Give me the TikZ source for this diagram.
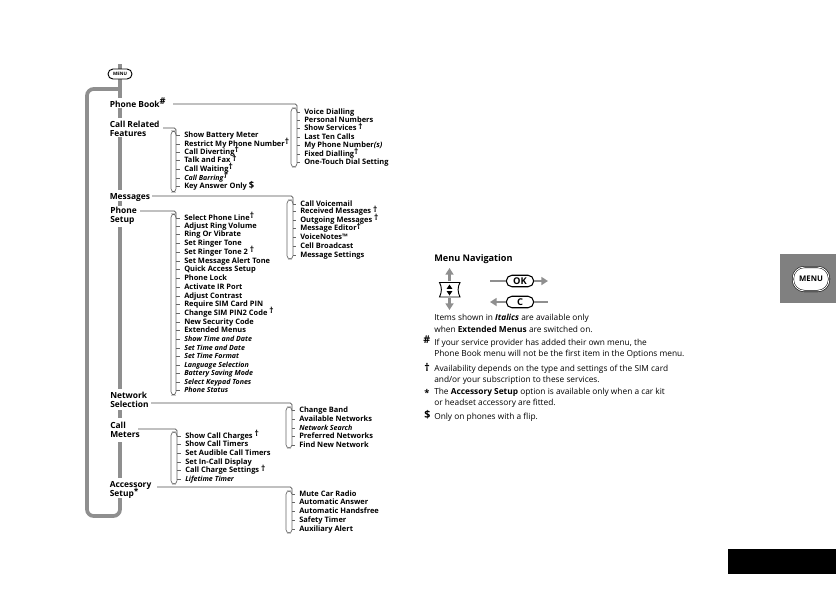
\documentclass[tikz,border=0pt]{standalone}
\usepackage{fontspec}
\setmainfont{Open Sans}
\usepackage{tikz}
\usetikzlibrary{arrows.meta, positioning}
\definecolor{bargrey}{gray}{0.56}
\definecolor{tabgrey}{gray}{0.5}
\tikzset{
  head/.style={anchor=base west, font=\fontsize{6.3pt}{6.75pt}\bfseries\selectfont, align=left, inner sep=0pt},
  item/.style={anchor=base west, font=\fontsize{5.6pt}{6pt}\bfseries\selectfont, inner sep=0pt},
  extra/.style={anchor=base west, font=\fontsize{5.3pt}{6pt}\bfseries\itshape\selectfont, inner sep=0pt},
  note/.style={anchor=base west, font=\fontsize{6.25pt}{6pt}\selectfont, inner sep=0pt},
  sign/.style={anchor=base west, font=\fontsize{8pt}{8pt}\bfseries\selectfont, inner sep=0pt},
  spine/.style={draw=bargrey, line width=2.8pt},
  link/.style={draw=black!70, line width=0.45pt, rounded corners=1.2pt},
  tick/.style={draw=black!60, line width=0.4pt},
  brack/.style={draw=black!60, line width=0.5pt, rounded corners=2.5pt},
  navarrow/.style={draw=bargrey, line width=2.2pt, -{Triangle[length=5pt,width=6pt]}},
  navbar/.style={draw=bargrey, line width=2.2pt},
  capsule/.style={draw=black, line width=0.8pt, fill=white, rounded corners=4.2pt, minimum width=20.5pt, minimum height=8.6pt, inner sep=0pt, font=\fontsize{7pt}{7pt}\bfseries\selectfont},
}
\newcommand{\dg}{\smash{\raisebox{1pt}{\bfseries\fontsize{6.2pt}{6.2pt}\selectfont †}}}
% list bracket: left x, top y, bottom y, right x
\newcommand{\listbrack}[4]{\draw[brack] (#4,#2) -- (#1,#2) -- (#1,#3) -- (#4,#3) -- cycle;}
\begin{document}
\begin{tikzpicture}[x=0.75pt,y=-0.75pt]
\useasboundingbox (0,0) rectangle (836,590);
% main loop
\coordinate (top) at (120,64);
\coordinate (loopa) at (120,89);
\coordinate (loopb) at (120,498);
\draw[spine, rounded corners=5pt] (loopa) -- (87,89) -- (87,516) -- (120,516) -- (loopb);
\draw[spine] (top) -- (120,98);
\node[capsule, minimum width=18pt, minimum height=7.5pt, rounded corners=3.7pt, line width=0.7pt, font=\fontsize{3.4pt}{3.4pt}\bfseries\selectfont] (menu) at (120,74) {MENU};
\draw[spine] (120,108) -- (120,118);
\draw[spine] (120,137) -- (120,190);
\draw[spine] (120,201) -- (120,206);
\draw[spine] (120,227) -- (120,389);
\draw[spine] (120,410) -- (120,418);
\draw[spine] (120,442) -- (120,478);
% headings
\node[head] (book) at (109.5,107) {Phone Book\smash{\raisebox{2pt}{\fontsize{7pt}{7pt}\selectfont\#}}};
\node[head] (call) at (109.5,136) {Call Related\\Features};
\node[head] (msg) at (109.5,199) {Messages};
\node[head] (phone) at (110,222) {Phone\\Setup};
\node[head] (net) at (110,407) {Network\\Selection};
\node[head] (meter) at (110,437) {Call\\Meters};
\node[head] (acc) at (109.5,496) {Accessory\\Setup\smash{\raisebox{1.5pt}{*}}};
% links
\coordinate (bookl) at (173,104); \coordinate (calll) at (163,128);
\coordinate (msgl) at (152,196); \coordinate (phonel) at (140,211);
\coordinate (netl) at (151,403); \coordinate (meterl) at (138,429);
\coordinate (accl) at (157,487);
\draw[link] (bookl) -- (297,104) -- (297,112);
\draw[link] (calll) -- (176,128) -- (176,135);
\draw[link] (msgl) -- (293,196) -- (293,204);
\draw[link] (phonel) -- (176,211) -- (176,218);
\draw[link] (netl) -- (292,403) -- (292,411);
\draw[link] (meterl) -- (177,429) -- (177,436);
\draw[link] (accl) -- (292,487) -- (292,494);
% brackets
\listbrack{291}{108}{167}{297}
\listbrack{171}{131}{192}{176}
\listbrack{287}{200}{259}{293}
\listbrack{171}{214}{395}{176}
\listbrack{286}{407}{448}{292}
\listbrack{171}{432}{484}{177}
\listbrack{286}{491}{533}{292}
% phone book list
\foreach \yy/\txt in {112/Voice Dialling,120.3/Personal Numbers,128.7/Show Services \dg,137/Last Ten Calls,145.3/My Phone Number\textit{(s)},154/Fixed Dialling\dg,162.7/One-Touch Dial Setting}{
  \node[item] at (304,\yy+2) {\txt};
  \draw[tick] (297,\yy) -- (300,\yy);
}
% call features list
\foreach \yy/\txt in {135.3/Show Battery Meter,144/Restrict My Phone Number\dg,152.3/Call Diverting\dg,160.7/Talk and Fax \dg,169.3/Call Waiting\dg,186.7/Key Answer Only \smash{\fontsize{7pt}{7pt}\selectfont\$}}{
  \node[item] at (184,\yy+2) {\txt};
  \draw[tick] (176,\yy) -- (180,\yy);
}
\node[extra] at (184,180) {Call Barring\dg};
\draw[tick] (176,178) -- (180,178);
% messages list
\foreach \yy/\txt in {204/Call Voicemail,211.7/Received Messages \dg,220/Outgoing Messages \dg,228.7/Message Editor\dg,237.3/VoiceNotes™,246.3/Cell Broadcast,255/Message Settings}{
  \node[item] at (300,\yy+2) {\txt};
  \draw[tick] (293,\yy) -- (296,\yy);
}
% phone setup list
\foreach \yy/\txt in {218/Select Phone Line\dg,226.3/Adjust Ring Volume,234.7/Ring Or Vibrate,243.3/Set Ringer Tone,252.3/Set Ringer Tone 2 \dg,261/Set Message Alert Tone,269.7/Quick Access Setup,278.3/Phone Lock,287.3/Activate IR Port,296/Adjust Contrast,304.7/Require SIM Card PIN,313.3/Change SIM PIN2 Code \dg,322/New Security Code,330.7/Extended Menus}{
  \node[item] at (184,\yy+2) {\txt};
  \draw[tick] (176,\yy) -- (180,\yy);
}
\foreach \yy/\txt in {339.3/Show Time and Date,348/Set Time and Date,356.7/Set Time Format,365.3/Language Selection,373.7/Battery Saving Mode,382.3/Select Keypad Tones,390.7/Phone Status}{
  \node[extra] at (184,\yy+2) {\txt};
  \draw[tick] (176,\yy) -- (180,\yy);
}
% network list
\foreach \yy/\txt in {410.7/Change Band,419.3/Available Networks,436.7/Preferred Networks,445/Find New Network}{
  \node[item] at (299,\yy+2) {\txt};
  \draw[tick] (292,\yy) -- (295,\yy);
}
\node[extra] at (299,430.3) {Network Search};
\draw[tick] (292,428.3) -- (295,428.3);
% meters list
\foreach \yy/\txt in {436/Show Call Charges \dg,444.7/Show Call Timers,453.3/Set Audible Call Timers,462/Set In-Call Display,470.7/Call Charge Settings \dg}{
  \node[item] at (185,\yy+2) {\txt};
  \draw[tick] (177,\yy) -- (181,\yy);
}
\node[extra] at (185,481.3) {Lifetime Timer};
\draw[tick] (177,479.3) -- (181,479.3);
% accessory list
\foreach \yy/\txt in {494.3/Mute Car Radio,502.7/Automatic Answer,511.7/Automatic Handsfree,520.3/Safety Timer,529/Auxiliary Alert}{
  \node[item] at (299,\yy+2) {\txt};
  \draw[tick] (292,\yy) -- (295,\yy);
}
% navigation panel
\node[note, font=\fontsize{6.85pt}{6.85pt}\bfseries\selectfont] (navtitle) at (434,261.5) {Menu Navigation};
\coordinate (upa) at (449.5,281); \coordinate (upb) at (449.5,268);
\coordinate (dna) at (449.5,298); \coordinate (dnb) at (449.5,310);
\draw[navarrow] (upa) -- (upb);
\draw[navarrow] (dna) -- (dnb);
\draw[line width=0.7pt] (439.5,282.5) .. controls (442,287) and (442,292) .. (439.5,297) -- (460,297) .. controls (457.5,292) and (457.5,287) .. (460,282.5) -- cycle;
\fill (449.5,284.5) -- (452.3,288.8) -- (446.7,288.8) -- cycle;
\fill (449.5,295.5) -- (452.3,291.2) -- (446.7,291.2) -- cycle;
\node[capsule] (ok) at (520,281) {OK};
\node[capsule] (c) at (520,302) {C};
\coordinate (okl) at (490,281); \coordinate (okr) at (548,281);
\coordinate (cl) at (490,302); \coordinate (cr) at (548,302);
\draw[navbar] (okl) -- (ok);
\draw[navarrow] (ok) -- (okr);
\draw[navarrow] (c) -- (cl);
\draw[navbar] (c) -- (cr);
% notes
\node[note] at (434,320) {Items shown in \textbf{\textit{Italics}} are available only};
\node[note] at (434,332) {when \textbf{Extended Menus} are switched on.};
\node[note] at (434,345) {If your service provider has added their own menu, the};
\node[note] at (434,356.5) {Phone Book menu will not be the first item in the Options menu.};
\node[note] at (434,371) {Availability depends on the type and settings of the SIM card};
\node[note] at (434,382.5) {and/or your subscription to these services.};
\node[note] at (434,394) {The \textbf{Accessory Setup} option is available only when a car kit};
\node[note] at (434,405.5) {or headset accessory are fitted.};
\node[note] at (434,419) {Only on phones with a flip.};
\node[sign] at (423,343) {\#};
\node[sign] at (424,371) {†};
\node[sign, font=\fontsize{7pt}{7pt}\bfseries\selectfont] at (424,396) {*};
\node[sign] at (424,418) {\$};
% side tab
\fill[tabgrey] (780,254) rectangle (836,303);
\node[capsule, minimum width=27pt, minimum height=18pt, rounded corners=8.5pt, font=\fontsize{5.8pt}{5.8pt}\bfseries\selectfont, double=white, double distance=0.7pt, line width=0.4pt] (tabmenu) at (811,279) {MENU};
\fill[black] (728,549) rectangle (836,574);
\end{tikzpicture}
\end{document}
